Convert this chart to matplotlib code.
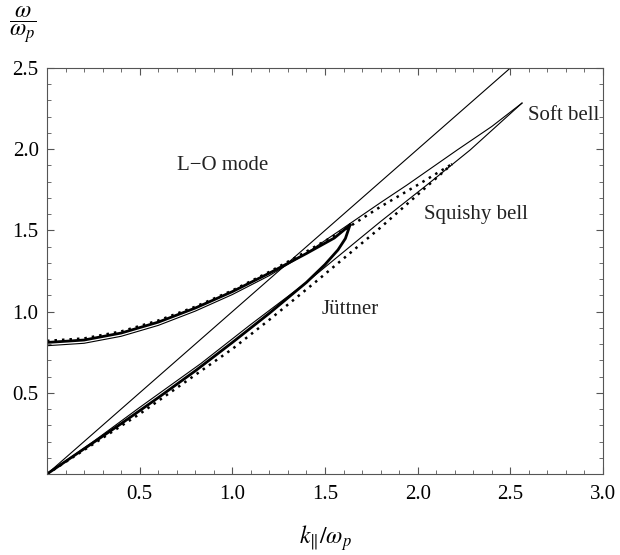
import numpy as np
import matplotlib.pyplot as plt
from matplotlib.ticker import MultipleLocator, FixedLocator

plt.rcParams['font.family'] = ['Liberation Serif', 'DejaVu Serif']
plt.rcParams['mathtext.fontset'] = 'stix'

# light line omega = k
light_k = [0.0, 2.6]
light_w = [0.0, 2.6]

# Juttner (thick solid)
jut_up_k = [0.0, 0.2, 0.4, 0.6, 0.8, 1.0, 1.2, 1.4, 1.55, 1.635]
jut_up_w = [0.81, 0.825, 0.868, 0.935, 1.022, 1.123, 1.237, 1.358, 1.453, 1.533]
jut_lo_k = [0.0, 0.2, 0.4, 0.6, 0.8, 1.0, 1.2, 1.4, 1.5, 1.57, 1.61, 1.635]
jut_lo_w = [0.0, 0.155, 0.31, 0.47, 0.635, 0.81, 0.99, 1.18, 1.29, 1.38, 1.45, 1.533]

# Squishy bell (dotted)
sq_up_k = [0.0, 0.2, 0.4, 0.6, 0.8, 1.0, 1.2, 1.4, 1.6, 1.797, 2.0, 2.186]
sq_up_w = [0.82, 0.835, 0.878, 0.945, 1.03, 1.13, 1.245, 1.37, 1.50, 1.644, 1.78, 1.909]
sq_lo_k = [0.0, 0.5, 1.0, 1.2, 1.462, 1.797, 2.0, 2.186]
sq_lo_w = [0.0, 0.37, 0.77, 0.95, 1.195, 1.515, 1.72, 1.909]

# Soft bell (thin solid)
soft_up_k = [0.0, 0.2, 0.4, 0.6, 0.8, 1.0, 1.2, 1.4, 1.6, 1.797, 1.943, 2.213, 2.4, 2.563]
soft_up_w = [0.79, 0.805, 0.848, 0.915, 1.003, 1.105, 1.222, 1.36, 1.515, 1.669, 1.78, 1.995, 2.14, 2.284]
soft_lo_k = [0.0, 0.25, 0.5, 0.83, 1.095, 1.4, 1.797, 2.05, 2.283, 2.563]
soft_lo_w = [0.0, 0.2, 0.41, 0.68, 0.917, 1.18, 1.552, 1.78, 1.995, 2.284]

fig = plt.figure(figsize=(6.2, 5.55), dpi=100)
ax = fig.add_axes([0.0758, 0.1459, 0.8968, 0.7316])

ax.plot(light_k, light_w, color='black', lw=0.8)
ax.plot(soft_up_k, soft_up_w, color='black', lw=0.8)
ax.plot(soft_lo_k, soft_lo_w, color='black', lw=0.8)
ax.plot(sq_up_k, sq_up_w, color='black', lw=1.8, linestyle=(0, (1, 2)))
ax.plot(sq_lo_k, sq_lo_w, color='black', lw=1.8, linestyle=(0, (1, 2)))
ax.plot(jut_up_k, jut_up_w, color='black', lw=2.0)
ax.plot(jut_lo_k, jut_lo_w, color='black', lw=2.0)

ax.text(0.95, 1.9, 'L\u2212O mode', fontsize=15, ha='center', va='center', color='#222222')
ax.text(1.635, 1.016, 'J\u00fcttner', fontsize=15, ha='center', va='center', color='#222222')
ax.text(2.315, 1.595, 'Squishy bell', fontsize=15, ha='center', va='center', color='#222222')
ax.text(2.785, 2.21, 'Soft bell', fontsize=15, ha='center', va='center', color='#222222')

ax.set_xlim(0, 3.0)
ax.set_ylim(0, 2.5)
ax.xaxis.set_major_locator(FixedLocator([0.5, 1.0, 1.5, 2.0, 2.5, 3.0]))
ax.yaxis.set_major_locator(FixedLocator([0.5, 1.0, 1.5, 2.0, 2.5]))
ax.xaxis.set_minor_locator(MultipleLocator(0.1))
ax.yaxis.set_minor_locator(MultipleLocator(0.1))
ax.xaxis.set_major_formatter(plt.FormatStrFormatter('%.1f'))
ax.yaxis.set_major_formatter(plt.FormatStrFormatter('%.1f'))
ax.tick_params(which='both', direction='in', top=True, right=True, color='#555555', labelsize=15)
ax.tick_params(which='major', length=5, width=0.8)
ax.tick_params(which='minor', length=3, width=0.6)
ax.tick_params(axis='x', pad=8)
ax.tick_params(axis='y', pad=6)
for s in ax.spines.values():
    s.set_color('#555555')
    s.set_linewidth(0.8)

ax.set_xlabel(r'$k_{\|}/\omega_p$', fontsize=17, labelpad=14)
fig.text(0.037, 0.955, r'$\dfrac{\omega}{\omega_p}$', fontsize=17, ha='center', va='center')

fig.savefig('out.png', dpi=100)
